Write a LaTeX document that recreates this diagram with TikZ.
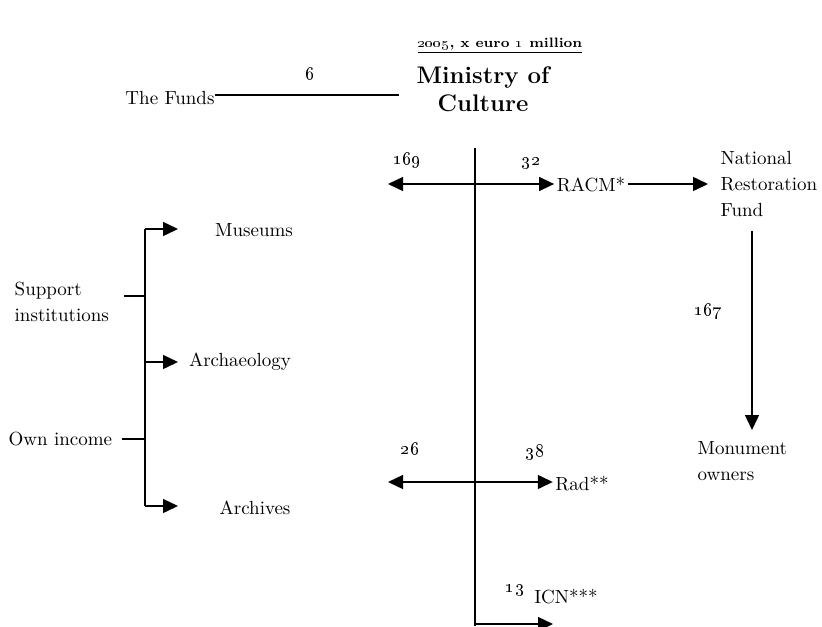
\documentclass[tikz,border=0pt]{standalone}
\usetikzlibrary{arrows.meta}
\begin{document}
\begin{tikzpicture}[x=0.5pt, y=-0.5pt, line width=0.7pt,
  font=\fontsize{9.5}{13}\selectfont,
  >={Triangle[length=7.5pt, width=7pt]},
  lbl/.style={inner sep=1pt}]

\useasboundingbox (0,0) rectangle (822,626);

\node (title)[font=\fontsize{6.8}{8}\selectfont\bfseries] at (500,46) {\underline{\oldstylenums{2005}, x euro \oldstylenums{1} million}};

\node (funds) at (170,98) {The Funds};
\node (ministry)[align=center, font=\fontsize{12}{14}\selectfont\bfseries] at (483,89) {Ministry of\\Culture};
\node (six) at (310,74) {\oldstylenums{6}};

\coordinate (fl) at (215,95);
\coordinate (fr) at (399,95);
\draw (fl) -- (fr);

\coordinate (top) at (475,148);
\coordinate (bot) at (475,626);
\draw (top) -- (bot);

\node (racm)[lbl] at (591,185) {RACM*};
\node (nrf)[anchor=west, align=left, inner sep=0pt] at (720,184) {National\\Restoration\\Fund};
\node (n169) at (407,160) {\oldstylenums{169}};
\node (n32) at (531,163) {\oldstylenums{32}};
\coordinate (l1) at (388,184);
\coordinate (r1) at (708,184);
\draw[<->] (l1) -- (l1 -| racm.west);
\draw[->] (l1 -| racm.east) -- (r1);

\node (mon)[anchor=west, align=left, inner sep=0pt] at (697,461) {Monument\\owners};
\node (n167) at (708,311) {\oldstylenums{167}};
\coordinate (d1) at (752,231);
\coordinate (d2) at (752,430);
\draw[->] (d1) -- (d2);

\node (rad)[lbl] at (582,484) {Rad**};
\node (n26) at (410,449) {\oldstylenums{26}};
\node (n38) at (535,452) {\oldstylenums{38}};
\coordinate (l2) at (388,482);
\draw[<->] (l2) -- (l2 -| rad.west);

\node (icn) at (566,597) {ICN***};
\node (n13) at (515,590) {\oldstylenums{13}};
\coordinate (b0) at (475,624);
\coordinate (b4) at (553,624);
\draw[->] (b0) -- (b4);

\node (support)[anchor=west, align=left, inner sep=0pt] at (14,302) {Support\\institutions};
\node (own)[anchor=west, inner sep=0pt] at (8,439) {Own income};
\node (museums) at (254,230) {Museums};
\node (archae) at (240,362) {Archaeology};
\node (archives) at (255,508) {Archives};

\coordinate (br1) at (145,229);
\coordinate (br2) at (145,362);
\coordinate (br3) at (145,506);
\coordinate (t1) at (124,296);
\coordinate (t2) at (122,439);
\coordinate (a1) at (178,229);
\coordinate (a2) at (178,362);
\coordinate (a3) at (178,506);

\draw (br1) -- (br3);
\draw (t1) -- (t1 -| br1);
\draw (t2) -- (t2 -| br1);
\draw[->] (br1) -- (a1);
\draw[->] (br2) -- (a2);
\draw[->] (br3) -- (a3);

\end{tikzpicture}
\end{document}
